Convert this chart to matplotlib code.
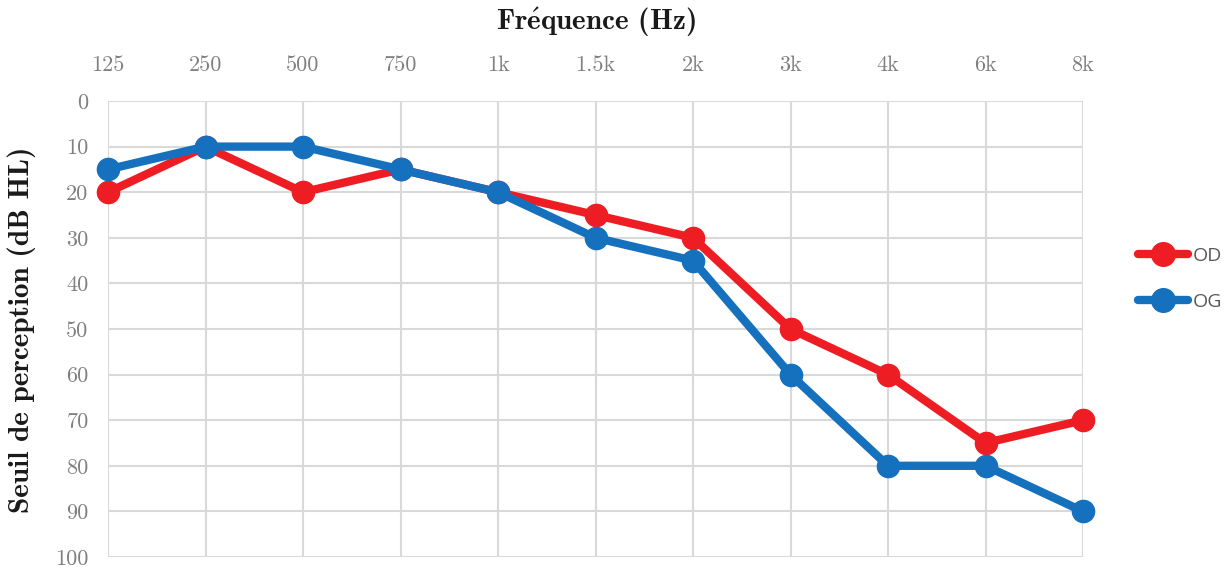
import matplotlib
matplotlib.use("Agg")
import matplotlib.pyplot as plt
from matplotlib.lines import Line2D

frequencies = ["125", "250", "500", "750", "1k", "1.5k", "2k", "3k", "4k", "6k", "8k"]
od_values = [20, 10, 20, 15, 20, 25, 30, 50, 60, 75, 70]
og_values = [15, 10, 10, 15, 20, 30, 35, 60, 80, 80, 90]
y_ticks = [0, 10, 20, 30, 40, 50, 60, 70, 80, 90, 100]

red = "#EE1D23"
blue = "#1570BE"
grey_txt = "#808080"
grid_c = "#D9D9D9"

plt.rcParams['axes.formatter.use_mathtext'] = True
plt.rcParams['mathtext.fontset'] = 'cm'
serif = ['cmr10', 'DejaVu Serif']
serif_b = ['cmb10', 'DejaVu Serif']

fig = plt.figure(figsize=(12.27, 5.67), dpi=100)
ax = fig.add_axes([108/1227, 1-557/567, (1083-108)/1227, (557-101)/567])

x = list(range(len(frequencies)))
ax.plot(x, od_values, color=red, lw=6, marker='o', ms=16, solid_capstyle='round', solid_joinstyle='round', zorder=3, clip_on=False)
ax.plot(x, og_values, color=blue, lw=6, marker='o', ms=16, solid_capstyle='round', solid_joinstyle='round', zorder=4, clip_on=False)

ax.set_xlim(0, len(frequencies)-1)
ax.set_ylim(100, 0)
ax.set_xticks(x)
ax.set_xticklabels(frequencies)
ax.set_yticks(y_ticks)
ax.set_yticklabels([str(v) for v in y_ticks])
ax.xaxis.tick_top()
ax.tick_params(axis='both', length=0, colors=grey_txt, labelsize=16)
ax.tick_params(axis='x', pad=19)
ax.tick_params(axis='y', pad=14)
for lab in ax.get_xticklabels() + ax.get_yticklabels():
    lab.set_family(serif)
ax.grid(True, color=grid_c, lw=1.5)
for s in ax.spines.values():
    s.set_visible(False)

fig.text(596/1227, 1-22/567, r"Fr$\mathbf{\acute{e}}$quence (Hz)", ha='center', va='center', fontsize=21, family=serif_b, color='#1a1a1a')
fig.text(22/1227, 1-330/567, "Seuil de perception (dB HL)", ha='center', va='center', rotation=90, fontsize=21, family=serif_b, color='#1a1a1a')

handles = [Line2D([], [], color=red, lw=6, marker='o', ms=17, solid_capstyle='round'),
           Line2D([], [], color=blue, lw=6, marker='o', ms=17, solid_capstyle='round')]
leg = fig.legend(handles, ["OD", "OG"], loc='center left', bbox_to_anchor=(1120/1227, 1-279/567),
                 frameon=False, handlelength=2.6, handletextpad=0.25, labelspacing=1.45,
                 prop={'family': 'Open Sans', 'size': 14})
for t in leg.get_texts():
    t.set_color('#595959')

fig.savefig("out.png", dpi=100)
